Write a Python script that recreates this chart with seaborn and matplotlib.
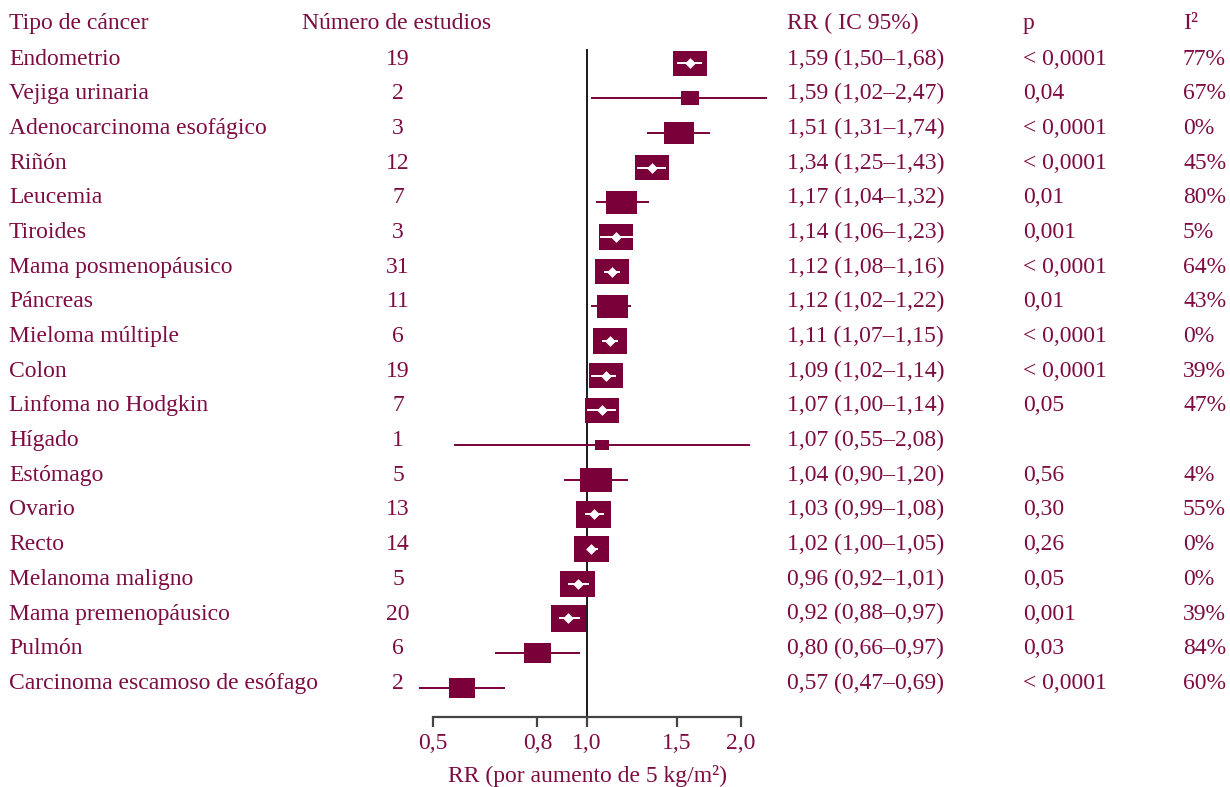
import numpy as np
import pandas as pd
import matplotlib
matplotlib.use("Agg")
import matplotlib.pyplot as plt
import seaborn as sns
from matplotlib.path import Path
from matplotlib.patches import Rectangle
from matplotlib.ticker import NullLocator
from matplotlib.transforms import blended_transform_factory

# ---- data -------------------------------------------------------------
cancer = [
    "Endometrio", "Vejiga urinaria", "Adenocarcinoma esofágico", "Riñón",
    "Leucemia", "Tiroides", "Mama posmenopáusico", "Páncreas",
    "Mieloma múltiple", "Colon", "Linfoma no Hodgkin", "Hígado", "Estómago",
    "Ovario", "Recto", "Melanoma maligno", "Mama premenopáusico", "Pulmón",
    "Carcinoma escamoso de esófago",
]
n_studies = [19, 2, 3, 12, 7, 3, 31, 11, 6, 19, 7, 1, 5, 13, 14, 5, 20, 6, 2]
rr = [1.59, 1.59, 1.51, 1.34, 1.17, 1.14, 1.12, 1.12, 1.11, 1.09, 1.07,
      1.07, 1.04, 1.03, 1.02, 0.96, 0.92, 0.80, 0.57]
ci_low = [1.50, 1.02, 1.31, 1.25, 1.04, 1.06, 1.08, 1.02, 1.07, 1.02, 1.00,
          0.55, 0.90, 0.99, 1.00, 0.92, 0.88, 0.66, 0.47]
ci_high = [1.68, 2.47, 1.74, 1.43, 1.32, 1.23, 1.16, 1.22, 1.15, 1.14, 1.14,
           2.08, 1.20, 1.08, 1.05, 1.01, 0.97, 0.97, 0.69]
p_values = ["< 0,0001", "0,04", "< 0,0001", "< 0,0001", "0,01", "0,001",
            "< 0,0001", "0,01", "< 0,0001", "< 0,0001", "0,05", "", "0,56",
            "0,30", "0,26", "0,05", "0,001", "0,03", "< 0,0001"]
i2 = [77, 67, 0, 45, 80, 5, 64, 43, 0, 39, 47, None, 4, 55, 0, 0, 39, 84, 60]
weights = [89, 26, 73, 94, 78, 94, 94, 78, 94, 94, 94, 16, 84, 100, 100,
           100, 100, 60, 55]

xticks = [0.5, 0.8, 1.0, 1.5, 2.0]
xtick_labels = ["0,5", "0,8", "1,0", "1,5", "2,0"]

df = pd.DataFrame({
    "cancer": cancer, "n": n_studies, "rr": rr, "lo": ci_low, "hi": ci_high,
    "p": p_values, "i2": i2, "weight": weights,
})
df["row"] = np.arange(len(df))

# ---- style ------------------------------------------------------------
sns.set_theme(style="white")
plt.rcParams["font.family"] = ["Liberation Serif", "DejaVu Serif"]
MAROON = "#7a003a"
TEXT = "#7d0c42"
FS = 17

W, H = 1230, 787
DPI = 100
fig = plt.figure(figsize=(W / DPI, H / DPI), dpi=DPI)
ax = fig.add_axes([433 / W, 1 - 717 / H, 308 / W, (717 - 49) / H])

ax.set_xscale("log")
ax.set_xlim(0.5, 2.0)
ax.set_ylim(18.84, -0.418)

# reference line at RR = 1
ax.axvline(1.0, color="#1a1a1a", lw=1.4, zorder=1)

# confidence intervals, drawn up to the edge of the plotting band
ci_lines = ax.hlines(df["row"], df["lo"], df["hi"], color=MAROON, lw=1.4,
                     zorder=2)
band = Rectangle((0.3, -3), 2.25 - 0.3, 25, transform=ax.transData)
ci_lines.set_clip_path(band)

# weight boxes (rectangular marker, area proportional to weight)
box = Path([(-1.33, -1), (1.33, -1), (1.33, 1), (-1.33, 1), (-1.33, -1)],
           [Path.MOVETO, Path.LINETO, Path.LINETO, Path.LINETO,
            Path.CLOSEPOLY])
SMAX = 640
sns.scatterplot(data=df, x="rr", y="row", size="weight", sizes=(0, SMAX),
                size_norm=(0, 100), marker=box, color=MAROON, linewidth=0,
                legend=False, ax=ax, zorder=3, clip_on=False)

# where the interval fits inside its box, draw it in white with a diamond
fig.canvas.draw()
inside = []
for _, r in df.iterrows():
    half_px = np.sqrt(SMAX * r["weight"] / 100) * DPI / 72 / 2
    cx = ax.transData.transform((r["rr"], r["row"]))[0]
    lx = ax.transData.transform((r["lo"], r["row"]))[0]
    hx = ax.transData.transform((r["hi"], r["row"]))[0]
    inside.append(lx >= cx - half_px and hx <= cx + half_px)
inner = df[inside]
ax.hlines(inner["row"], inner["lo"], inner["hi"], color="white", lw=1.4,
          zorder=4)
ax.scatter(inner["rr"], inner["row"], marker="D", s=30, color="white",
           linewidths=0, zorder=5)

# axes styling
for side in ["top", "left", "right"]:
    ax.spines[side].set_visible(False)
ax.spines["bottom"].set_color("#444444")
ax.spines["bottom"].set_linewidth(1.6)
ax.set_xticks(xticks)
ax.set_xticklabels(xtick_labels)
ax.xaxis.set_minor_locator(NullLocator())
ax.set_yticks([])
ax.tick_params(axis="x", direction="out", length=7.2, width=1.6,
               color="#444444", labelcolor=TEXT, labelsize=FS, pad=4,
               bottom=True)
ax.set_xlabel("RR (por aumento de 5 kg/m²)", color=TEXT, fontsize=FS,
              labelpad=8.5)
ax.set_ylabel("")

# text columns
tr = blended_transform_factory(fig.transFigure, ax.transData)
def px(x):
    return x / W

header_y = -1.0
ax.text(px(9), header_y, "Tipo de cáncer", transform=tr, color=TEXT,
        fontsize=FS, va="baseline", ha="left")
ax.text(px(302), header_y, "Número de estudios", transform=tr, color=TEXT,
        fontsize=FS, va="baseline", ha="left")
ax.text(px(787), header_y, "RR ( IC 95%)", transform=tr, color=TEXT,
        fontsize=FS, va="baseline", ha="left")
ax.text(px(1023), header_y, "p", transform=tr, color=TEXT,
        fontsize=FS, va="baseline", ha="left")
ax.text(px(1183), header_y, "I²", transform=tr, color=TEXT,
        fontsize=FS, va="baseline", ha="left")

def fmt(v):
    return f"{v:.2f}".replace(".", ",")

for _, r in df.iterrows():
    y = r["row"] + 0.03
    ax.text(px(9), y, r["cancer"], transform=tr, color=TEXT, fontsize=FS,
            va="baseline", ha="left")
    ax.text(px(398), y, str(r["n"]), transform=tr, color=TEXT, fontsize=FS,
            va="baseline", ha="center")
    ax.text(px(787), y, f"{fmt(r['rr'])} ({fmt(r['lo'])}–{fmt(r['hi'])})",
            transform=tr, color=TEXT, fontsize=FS, va="baseline", ha="left")
    if r["p"]:
        ax.text(px(1023), y, r["p"], transform=tr, color=TEXT, fontsize=FS,
                va="baseline", ha="left")
    if not pd.isna(r["i2"]):
        ax.text(px(1183), y, f"{int(r['i2'])}%", transform=tr, color=TEXT,
                fontsize=FS, va="baseline", ha="left")

fig.savefig("out.png", dpi=DPI)
